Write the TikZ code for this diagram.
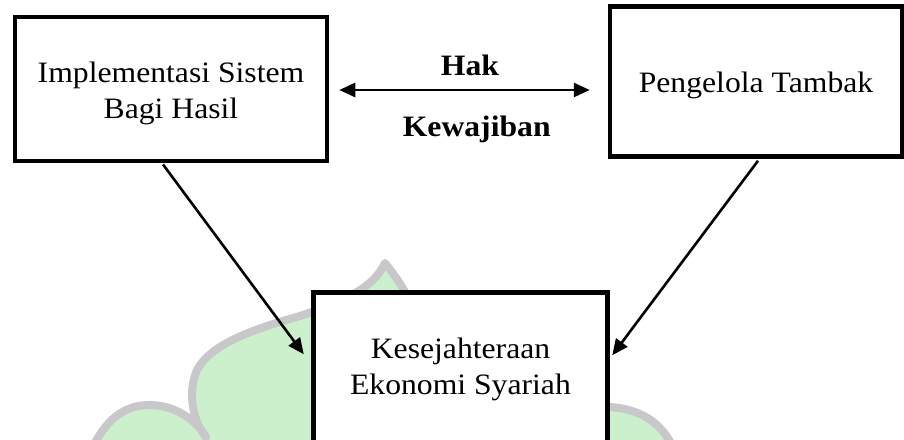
\documentclass[tikz,border=0pt]{standalone}
\usepackage{fontspec}
\setmainfont{Liberation Serif}[FakeStretch=1.07]
\usetikzlibrary{arrows.meta}
\definecolor{wmgreen}{RGB}{204,240,204}
\definecolor{wmgray}{RGB}{200,200,202}
\begin{document}
\begin{tikzpicture}[x=0.5pt,y=-0.5pt,
  box/.style={draw, line width=2.25pt, fill=white, align=center, inner sep=0pt,
    font=\fontsize{14.8}{18.3}\selectfont},
  txt/.style={align=center, inner sep=0pt, font=\fontsize{14.8}{18.3}\selectfont},
  conn/.style={line width=1.3pt, -{Triangle[length=8pt,width=7pt]}},
  dblconn/.style={line width=1.3pt, {Triangle[length=8pt,width=7pt]}-{Triangle[length=8pt,width=7pt]}},
  lbl/.style={font=\fontsize{14.8}{18.3}\selectfont\bfseries, anchor=base, inner sep=0pt},
  wmline/.style={draw=wmgray, line width=4pt, line join=round, line cap=round}]
\useasboundingbox (0,0) rectangle (904,439);
\clip (0,0) rectangle (904,439);
% watermark
\path[fill=wmgreen] (385,263) .. controls (372,292) and (330,306) .. (300,316)
  .. controls (250,330) and (210,345) .. (197,370)
  .. controls (186,395) and (195,425) .. (206,437)
  .. controls (195,418) and (172,404) .. (147,405)
  .. controls (120,406) and (104,425) .. (94,445)
  -- (672,445) .. controls (660,422) and (640,409) .. (610,407)
  -- (560,300) -- (405,292) .. controls (398,280) .. (385,263) -- cycle;
\draw[wmline] (405,292) .. controls (398,280) .. (385,263)
  .. controls (372,292) and (330,306) .. (300,316)
  .. controls (250,330) and (210,345) .. (197,370)
  .. controls (186,395) and (195,425) .. (206,437)
  .. controls (195,418) and (172,404) .. (147,405)
  .. controls (120,406) and (104,425) .. (94,445);
\draw[wmline] (610,407) .. controls (640,409) and (660,422) .. (672,445);
% boxes
\node[box, minimum width=156pt, minimum height=72pt] (L) at (171,89.2) {};
\node[txt] (Ltxt) at (171,93.4) {Implementasi Sistem\\Bagi Hasil};
\node[box, minimum width=146pt, minimum height=75pt, text height=13.7pt] (R) at (756,81.5) {Pengelola Tambak};
\node[box, minimum width=147pt, minimum height=77pt] (B) at (460.5,369.5) {Kesejahteraan\\Ekonomi Syariah};
% labels
\node[lbl] (hak) at (470,75) {Hak};
\node[lbl] (kew) at (476.7,136.7) {Kewajiban};
% connectors
\coordinate (rA) at (R.west |- L.east);
\draw[dblconn] ([shift={(10,0.8)}]L.east) -- ([shift={(-18,0.8)}]rA);
\draw[conn] ([shift={(-8,1)}]L.south) -- ([shift={(-7.5,64)}]B.north west);
\draw[conn] ([shift={(2,2)}]R.south) -- ([shift={(2.5,65)}]B.north east);
\end{tikzpicture}
\end{document}
